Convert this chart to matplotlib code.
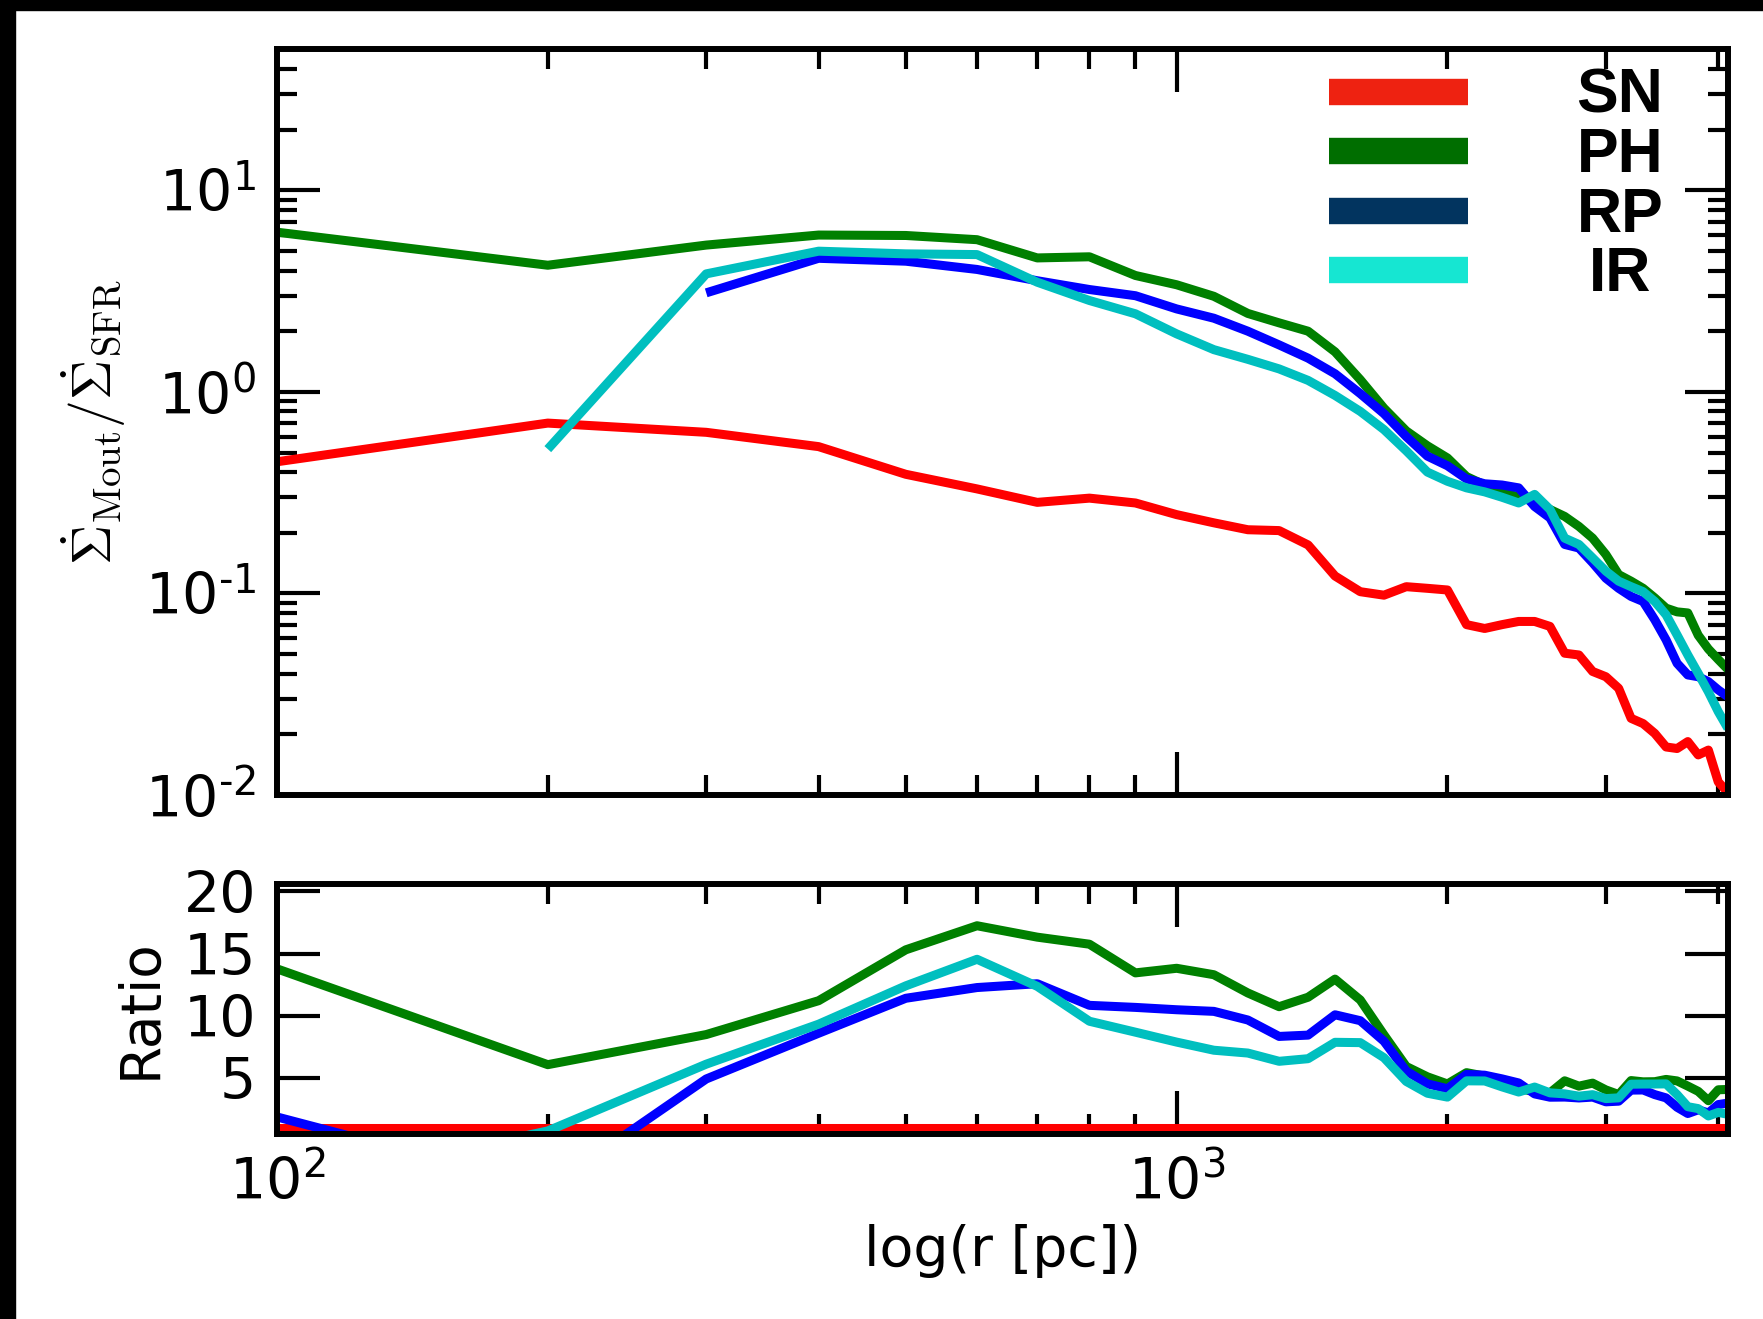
import numpy as np
import matplotlib
matplotlib.use('Agg')
import matplotlib.pyplot as plt
from matplotlib.patches import Rectangle
from matplotlib.ticker import MultipleLocator, NullFormatter, FuncFormatter

plt.rcParams['axes.unicode_minus'] = False

# radius of each bin [pc]
r_pc = [100, 200, 300, 400, 500, 600, 700, 800, 900, 1000,
        1100, 1200, 1300, 1400, 1500, 1600, 1700, 1800, 1900, 2000,
        2100, 2200, 2300, 2400, 2500, 2600, 2700, 2800, 2900, 3000,
        3100, 3200, 3300, 3400, 3500, 3600, 3700, 3800, 3900, 4000, 4100]

# mass loading per run (negative = net inflow, not drawn on the log panel)
sn = [0.45, 0.70, 0.63, 0.535, 0.39, 0.33, 0.283, 0.297, 0.281, 0.246,
      0.224, 0.207, 0.205, 0.174, 0.122, 0.102, 0.098, 0.108, 0.106, 0.104,
      0.070, 0.067, 0.070, 0.0726, 0.0726, 0.0686, 0.0505, 0.0495, 0.041, 0.0386,
      0.0338, 0.024, 0.0226, 0.0202, 0.0173, 0.0170, 0.0184, 0.0158, 0.0167, 0.0116, 0.0103]
ph = [6.2, 4.25, 5.35, 6.0, 5.97, 5.69, 4.62, 4.68, 3.78, 3.40,
      2.98, 2.45, 2.2, 2.0, 1.58, 1.15, 0.83, 0.64, 0.54, 0.47,
      0.38, 0.345, 0.32, 0.30, 0.285, 0.261, 0.241, 0.215, 0.188, 0.156,
      0.124, 0.115, 0.106, 0.095, 0.0845, 0.081, 0.080, 0.062, 0.053, 0.047, 0.042]
rp = [0.84, -2.7, 3.1, 4.6, 4.45, 4.05, 3.56, 3.22, 3.0, 2.58,
      2.32, 2.0, 1.71, 1.47, 1.23, 0.98, 0.78, 0.60, 0.48, 0.43,
      0.37, 0.35, 0.345, 0.334, 0.27, 0.237, 0.175, 0.168, 0.142, 0.119,
      0.106, 0.0966, 0.0912, 0.074, 0.0588, 0.045, 0.0394, 0.0386, 0.0365, 0.0332, 0.0307]
ir = [-1.8, 0.52, 3.85, 4.99, 4.84, 4.8, 3.5, 2.84, 2.44, 1.94,
      1.62, 1.45, 1.3, 1.14, 0.96, 0.80, 0.65, 0.51, 0.40, 0.36,
      0.334, 0.319, 0.30, 0.281, 0.310, 0.261, 0.188, 0.175, 0.150, 0.129,
      0.115, 0.108, 0.102, 0.0912, 0.0783, 0.0622, 0.0495, 0.0401, 0.0325, 0.0259, 0.0214]

labels = ['SN', 'PH', 'RP', 'IR']
line_colors = ['r', 'g', 'b', 'c']
legend_colors = ['#EE2211', '#006E00', '#02345F', '#16E6D2']

r = np.array(r_pc, dtype=float)
runs = [np.array(v) for v in (sn, ph, rp, ir)]


def pow10_label(v, pos):
    # 10^n with a plain hyphen for negative powers, like the original
    e = int(round(np.log10(v)))
    s = str(e) if e >= 0 else r'\text{-}' + str(-e)
    return r'$\mathdefault{10^{%s}}$' % s


fig = plt.figure(figsize=(17.63, 13.19), dpi=100)
ax1 = fig.add_axes([0.1571, 0.3973, 0.8230, 0.5652])
ax2 = fig.add_axes([0.1571, 0.1403, 0.8230, 0.1895])

lw = 6.5
for y, c in zip(runs, line_colors):
    ax1.plot(r, y, color=c, lw=lw, solid_capstyle='butt')
    ax2.plot(r, y / runs[0], color=c, lw=lw, solid_capstyle='butt')

ax1.set_xscale('log')
ax1.set_yscale('log', nonpositive='mask')
ax1.set_xlim(100, 4100)
ax1.set_ylim(0.01, 50)
ax1.xaxis.set_major_formatter(NullFormatter())
ax1.xaxis.set_minor_formatter(NullFormatter())
ax1.yaxis.set_major_formatter(FuncFormatter(pow10_label))
ax1.yaxis.set_minor_formatter(NullFormatter())
ax1.set_ylabel(r'$\dot{\Sigma}_{\rm Mout}/\dot{\Sigma}_{\rm SFR}$',
               fontsize=40, math_fontfamily='cm', labelpad=12)

ax2.set_xscale('log')
ax2.set_xlim(100, 4100)
ax2.set_ylim(0.5, 20.6)
ax2.yaxis.set_major_locator(MultipleLocator(5))
ax2.xaxis.set_major_formatter(FuncFormatter(pow10_label))
ax2.xaxis.set_minor_formatter(NullFormatter())
ax2.set_ylabel('Ratio', fontsize=39.5, labelpad=12)
ax2.set_xlabel('log(r [pc])', fontsize=40, labelpad=9)

for ax in (ax1, ax2):
    ax.tick_params(which='both', direction='in', top=True, right=True,
                   width=3, labelsize=41, pad=15)
    ax.tick_params(which='major', length=31)
    ax.tick_params(which='minor', length=14.5)
    for s in ax.spines.values():
        s.set_linewidth(4.3)
ax2.tick_params(which='minor', axis='y', left=False, right=False)

# legend drawn by hand: long thick bars, centred bold labels
rows = [0.943, 0.864, 0.783, 0.704]
for yy, lab, c in zip(rows, labels, legend_colors):
    ax1.plot([0.725, 0.821], [yy, yy], transform=ax1.transAxes, color=c,
             lw=19, solid_capstyle='butt', clip_on=False)
    ax1.text(0.9256, yy - 0.006, lab, transform=ax1.transAxes, ha='center', va='center',
             fontsize=45, fontweight='bold', family='Liberation Sans')

# black strips along the left and top edges
fig.add_artist(Rectangle((0, 0), 15 / 1763, 1, transform=fig.transFigure,
                         color='k', zorder=10))
fig.add_artist(Rectangle((0, 1 - 10 / 1319), 1, 10 / 1319, transform=fig.transFigure,
                         color='k', zorder=10))

fig.savefig('out.png', dpi=100)
